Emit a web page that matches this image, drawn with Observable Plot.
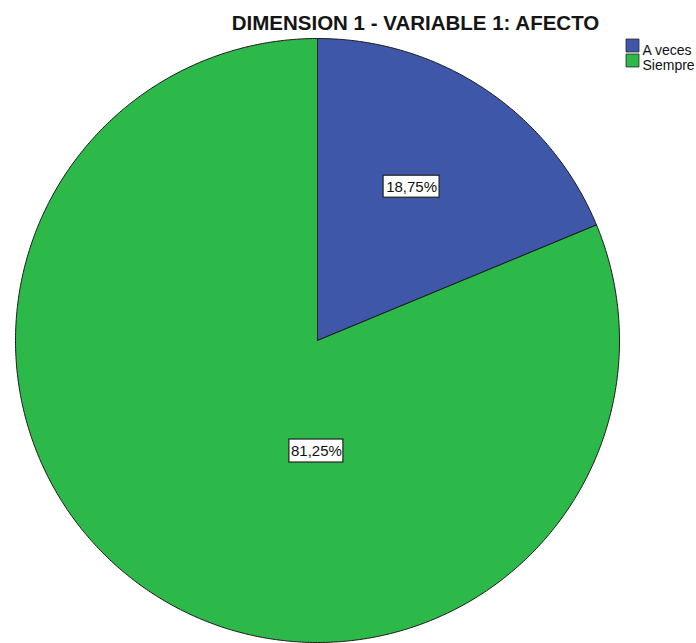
<!DOCTYPE html>
<html>
<head>
<meta charset="utf-8">
<script src="https://cdn.jsdelivr.net/npm/d3@7"></script>
<script src="https://cdn.jsdelivr.net/npm/@observablehq/plot@0.6"></script>
<style>
  html, body { margin: 0; padding: 0; background: #fff; }
  #chart svg { display: block; }
</style>
</head>
<body>
<div id="chart"></div>
<script>
// ---- Data ----
const title = "DIMENSION 1 - VARIABLE 1: AFECTO";
const categories = ["A veces", "Siempre"];
const percents = [18.75, 81.25];
const labels = ["18,75%", "81,25%"];
const colors = ["#3f57a9", "#2db84a"];

// ---- Layout ----
const W = 696, H = 643;
const mLeft = 15, mRight = 77, mTop = 38, mBottom = 1;
const R = (W - mLeft - mRight) / 2; // pixels per data unit

const slices = categories.map((c, i) => ({cat: c, value: percents[i], label: labels[i], color: colors[i]}));
const arcs = d3.pie().sort(null).value(d => d.value)(slices);

// polygon points per slice (angle 0 = 12 o'clock, clockwise; y up)
const polys = arcs.map(a => {
  const pts = [{x: 0, y: 0}];
  const n = Math.max(2, Math.ceil((a.endAngle - a.startAngle) / (Math.PI / 360)));
  for (let k = 0; k <= n; k++) {
    const t = a.startAngle + (a.endAngle - a.startAngle) * k / n;
    pts.push({x: Math.sin(t), y: Math.cos(t)});
  }
  pts.push({x: 0, y: 0});
  return {arc: a, pts};
});

// label anchors (polar: angle from 12 o'clock, fraction of radius)
const labelPolar = arcs.map((a, i) => {
  const mid = (a.startAngle + a.endAngle) / 2;
  return i === 0 ? {t: mid - 0.04, r: 0.597} : {t: Math.PI + 0.01, r: 0.366};
});
const labelData = arcs.map((a, i) => ({
  text: a.data.label,
  x: labelPolar[i].r * Math.sin(labelPolar[i].t),
  y: labelPolar[i].r * Math.cos(labelPolar[i].t),
}));
const boxHW = [28, 27], boxHH = [11, 11.5];

const marks = [];
polys.forEach(p => {
  marks.push(Plot.line(p.pts, {x: "x", y: "y", fill: p.arc.data.color, stroke: "#1a1a1a", strokeWidth: 1, curve: "linear"}));
});
marks.push(Plot.rect(labelData, {
  x1: (d, i) => d.x - boxHW[i] / R, x2: (d, i) => d.x + boxHW[i] / R,
  y1: (d, i) => d.y - boxHH[i] / R, y2: (d, i) => d.y + boxHH[i] / R,
  fill: "#fff", stroke: "#222", strokeWidth: 1.2
}));
marks.push(Plot.text(labelData, {x: "x", y: "y", text: "text", fontSize: 15, fill: "#111"}));

// title
marks.push(Plot.text([title], {frameAnchor: "top", dx: 98, dy: -23, fontSize: 20.5, fontWeight: "bold", fill: "#151515", text: d => d}));

// legend
categories.forEach((c, i) => {
  marks.push(Plot.dot([c], {frameAnchor: "top-right", dx: 13, dy: 7 + 15 * i, symbol: "square", r: 7.3, fill: colors[i], stroke: "#222", strokeWidth: 0.8}));
  marks.push(Plot.text([c], {frameAnchor: "top-right", dx: 23, dy: 7 + 15 * i, textAnchor: "start", fontSize: 14, fill: "#111", text: d => d}));
});

const chart = Plot.plot({
  width: W, height: H,
  marginLeft: mLeft, marginRight: mRight, marginTop: mTop, marginBottom: mBottom,
  x: {domain: [-1, 1], axis: null},
  y: {domain: [-1, 1], axis: null},
  style: {fontFamily: "'Liberation Sans', Arial, sans-serif", background: "#fff", overflow: "visible"},
  marks
});
document.getElementById("chart").append(chart);
</script>
</body>
</html>
